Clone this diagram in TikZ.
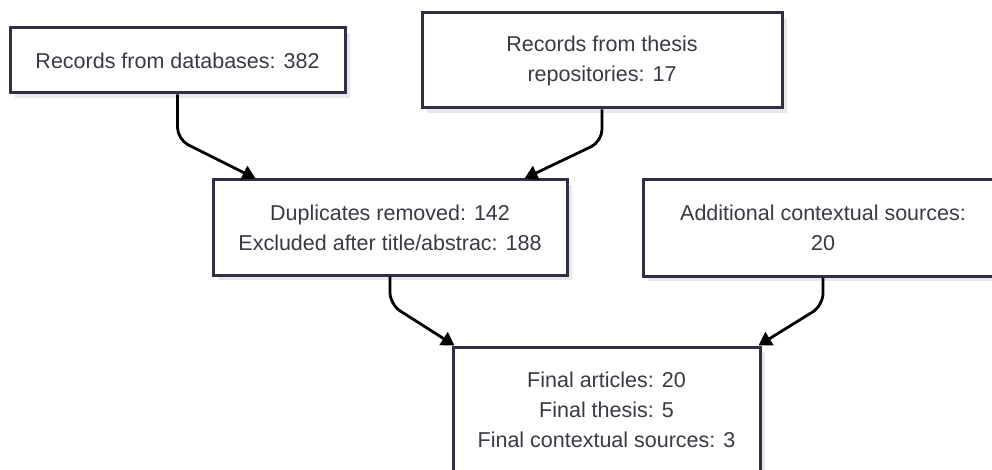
\documentclass[tikz,border=0pt]{standalone}
\usepackage{fontspec}
\setmainfont{Liberation Sans}
\usetikzlibrary{positioning, arrows.meta, shadows}
\definecolor{boxline}{HTML}{2F2F45}
\definecolor{boxtext}{HTML}{3A3A46}

\begin{document}
\begin{tikzpicture}[x = 1pt, y = -1pt, > = {Triangle[length=13pt, width=15pt]},
    block/.style = {draw=boxline, line width=3pt, fill=white, text=boxtext,
      align=center, inner sep=0pt, font=\fontsize{21.5}{30}\selectfont,
      drop shadow={shadow xshift=5pt, shadow yshift=-5pt, fill=black!15, opacity=0.6}},
    flow/.style = {->, line width=2.8pt, rounded corners=12pt}]
    \useasboundingbox (0,0) rectangle (992,470);
    \clip (0,0) rectangle (992,470);

    \node[block, minimum width=335pt, minimum height=65pt] (db) at (177.5,60.5) {Records from databases: 382};
    \node[block, minimum width=360pt, minimum height=95pt] (thesis) at (602,60.5) {Records from thesis\\repositories: 17};
    \node[block, minimum width=354pt, minimum height=95pt] (dup) at (390,227.5) {Duplicates removed: 142\\Excluded after title/abstrac: 188};
    \node[block, minimum width=360pt, minimum height=96pt] (extra) at (823,228) {Additional contextual sources:\\20};
    \node[block, minimum width=307pt, minimum height=126pt] (final) at (606.5,410) {Final articles: 20\\Final thesis: 5\\Final contextual sources: 3};

    \draw[flow] (db.south) -- ++(0,45) -- ([xshift=44pt]dup.north west);
    \draw[flow] (thesis.south) -- ++(0,32) -- ([xshift=-44pt]dup.north east);
    \draw[flow] (dup.south) -- ++(0,28) -- ([xshift=3pt]final.north west);
    \draw[flow] (extra.south) -- ++(0,28) -- ([xshift=-3pt]final.north east);
  \end{tikzpicture}
\end{document}
